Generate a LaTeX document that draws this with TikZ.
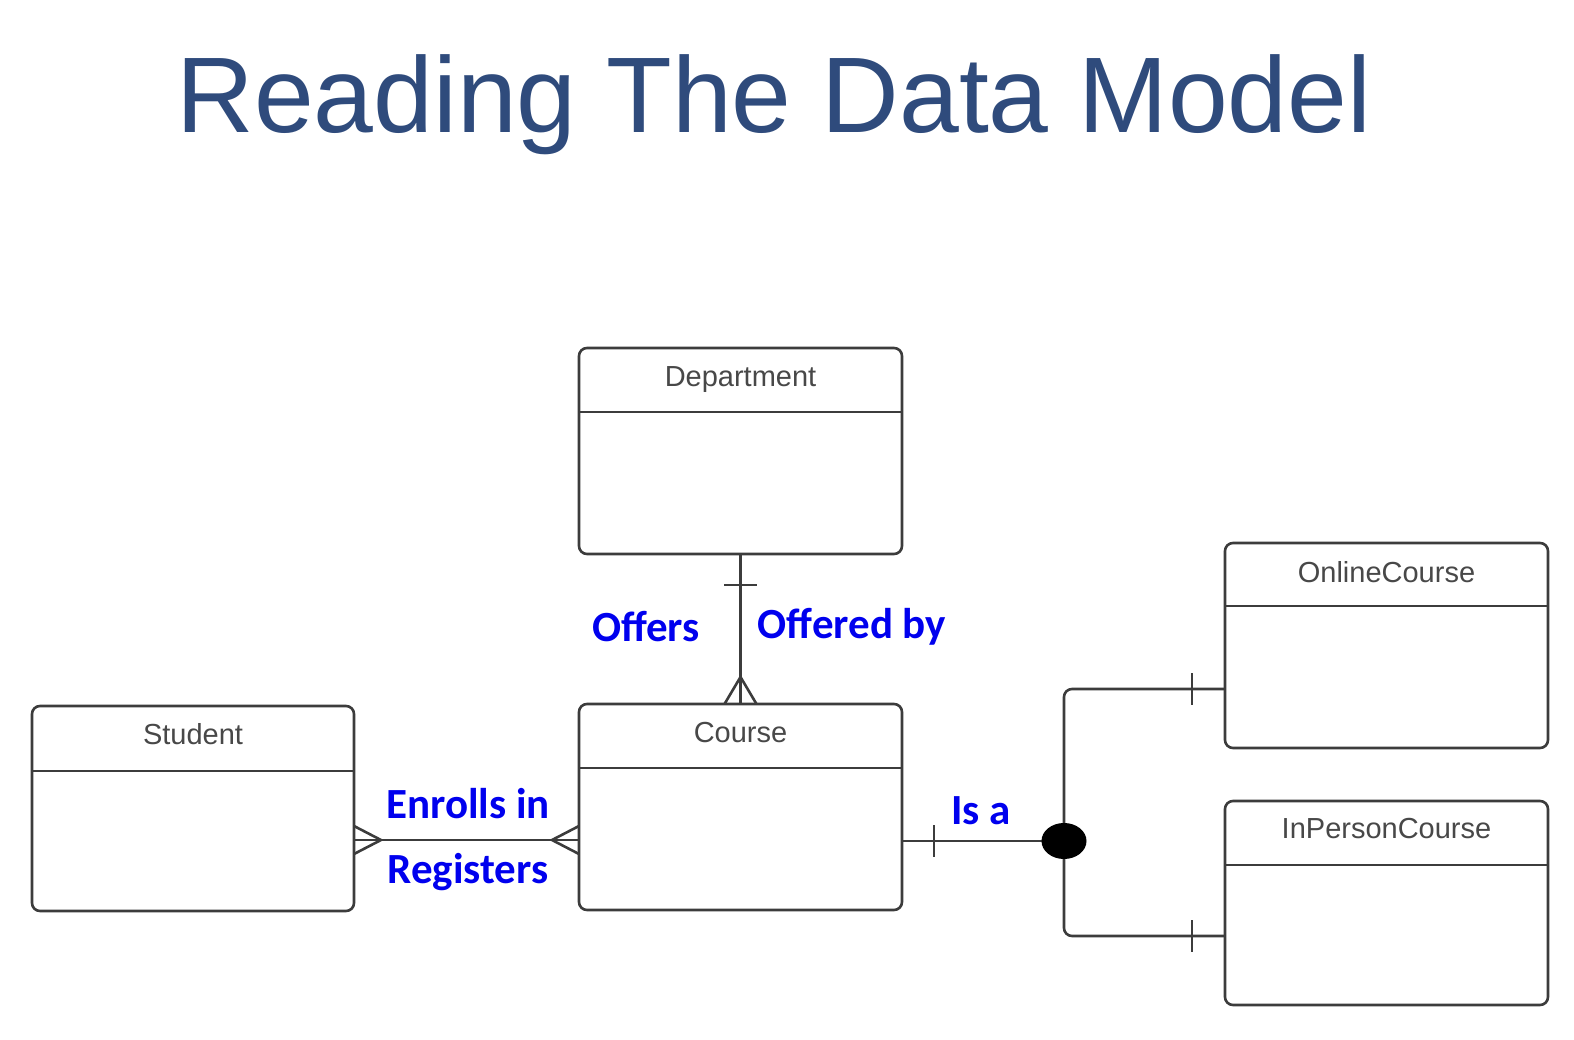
\documentclass[tikz,border=0pt]{standalone}
\usepackage{fontspec}
\setmainfont{Liberation Sans}
\newfontfamily\labelfont{Carlito}
\usetikzlibrary{calc,shapes.geometric}
\definecolor{titleblue}{RGB}{47,75,124}
\definecolor{relblue}{RGB}{0,0,238}
\definecolor{edgegray}{RGB}{60,60,60}
\definecolor{namegray}{RGB}{72,72,72}
\tikzset{
  entity/.style={draw=edgegray, line width=2.6pt, rounded corners=8pt, fill=white,
                 inner sep=0pt, outer sep=0pt},
  entname/.style={font=\fontsize{29}{32}\selectfont, text=namegray, inner sep=0pt},
  rel/.style={draw=edgegray, line width=2.6pt},
  relname/.style={font=\labelfont\bfseries\fontsize{43}{47}\selectfont, text=relblue, inner sep=0pt},
}
\begin{document}
\begin{tikzpicture}[x=1pt,y=-1pt]
\useasboundingbox (0,0) rectangle (1574,1040);

% title
\node[font=\fontsize{107.5}{120}\selectfont, text=titleblue, anchor=base, inner sep=0pt]
  (title) at (774,133) {Reading The Data Model};

% entities
\node[entity, minimum width=323pt, minimum height=206pt] (dept) at (740.5,451) {};
\node[entity, minimum width=322pt, minimum height=205pt] (student) at (193,808.5) {};
\node[entity, minimum width=323pt, minimum height=206pt] (course) at (740.5,807) {};
\node[entity, minimum width=323pt, minimum height=205pt] (online) at (1386.5,645.5) {};
\node[entity, minimum width=323pt, minimum height=204pt] (inperson) at (1386.5,903) {};

% header separators
\foreach \e/\h in {dept/64, student/65, course/64, online/63, inperson/64}{
  \draw[rel] ($(\e.north west)+(0,\h)$) -- ($(\e.north east)+(0,\h)$);
}

% entity names
\node[entname] (deptname) at ($(dept.north)+(0,32)$) {Department};
\node[entname] (studentname) at ($(student.north)+(0,28)$) {Student};
\node[entname] (coursename) at ($(course.north)+(0,29)$) {Course};
\node[entname] (onlinename) at ($(online.north)+(0,29)$) {OnlineCourse};
\node[entname] (inpersonname) at ($(inperson.north)+(0,28)$) {InPersonCourse};

% Department -- Course (one to many)
\draw[rel] (dept.south) -- (course.north);
\draw[rel] ($(dept.south)+(-16.5,31)$) -- ($(dept.south)+(16.5,31)$);
\draw[rel] ($(course.north)+(-16,0)$) -- ($(course.north)+(0,-27)$) -- ($(course.north)+(16,0)$);

% Student -- Course (many to many)
\coordinate (sEnd) at ($(student.east)+(0,31.5)$);
\coordinate (cEnd) at ($(course.west)+(0,33)$);
\draw[rel] (sEnd) -- (cEnd);
\draw[rel] ($(sEnd)+(0,-14)$) -- ($(sEnd)+(27,0)$) -- ($(sEnd)+(0,14)$);
\draw[rel] ($(cEnd)+(0,-14)$) -- ($(cEnd)+(-27,0)$) -- ($(cEnd)+(0,14)$);

% Course -- subtypes, joined at a filled dot
\coordinate (hub) at (1064,841);
\coordinate (cIsa) at ($(course.east)+(0,34)$);
\draw[rel] (cIsa) -- (hub);
\draw[rel] ($(cIsa)+(32,-16)$) -- ($(cIsa)+(32,16)$);
\coordinate (oEnd) at ($(online.west)+(0,43.5)$);
\coordinate (iEnd) at ($(inperson.west)+(0,33)$);
\draw[rel, rounded corners=8pt] (hub) |- (oEnd);
\draw[rel, rounded corners=8pt] (hub) |- (iEnd);
\draw[rel] ($(oEnd)+(-33,-16)$) -- ($(oEnd)+(-33,16)$);
\draw[rel] ($(iEnd)+(-33,-16)$) -- ($(iEnd)+(-33,16)$);
\node[ellipse, fill=black, minimum width=45pt, minimum height=36pt, inner sep=0pt] (dot) at (hub) {};

% relationship phrases
\node[relname] (offers) at (646,627) {Offers};
\node[relname] (offeredby) at (852,627) {Offered by};
\node[relname] (enrolls) at (468,804) {Enrolls in};
\node[relname] (registers) at (468,872) {Registers};
\node[relname] (isa) at (981,811) {Is a};
\end{tikzpicture}
\end{document}
